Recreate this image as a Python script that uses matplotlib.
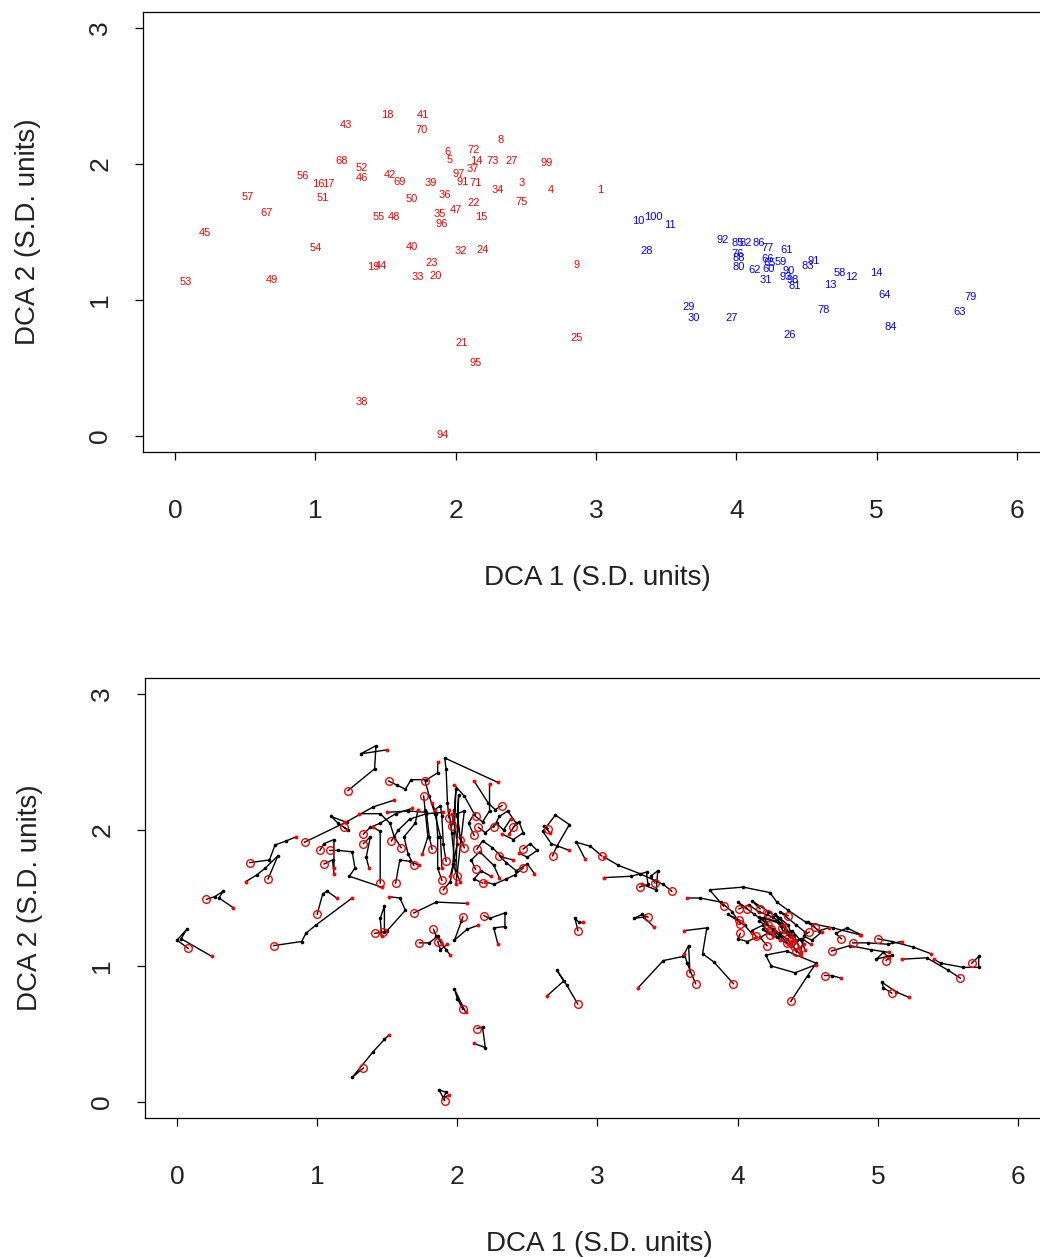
import matplotlib
matplotlib.use("Agg")
import matplotlib.pyplot as plt

plt.rcParams['font.family'] = ['Liberation Sans', 'DejaVu Sans']

# Site scores on the first two DCA axes (S.D. units)
site_labels = [
    "1", "3", "4", "5", "6", "8", "9", "14", "15", "16", "17", "18", "19", "20",
    "21", "22", "23", "24", "25", "27", "32", "33", "34", "35", "36", "37", "38",
    "39", "40", "41", "42", "43", "44", "45", "46", "47", "48", "49", "50", "51",
    "52", "53", "54", "55", "56", "57", "67", "68", "69", "70", "71", "72", "73",
    "75", "91", "94", "95", "96", "97", "99",
    "10", "100", "11", "28", "92", "85", "82", "86", "61", "77", "76", "88", "80",
    "62", "31", "66", "65", "59", "60", "90", "98", "93", "81", "91", "83", "58",
    "12", "13", "14", "64", "79", "63", "78", "84", "29", "30", "27", "26",
]
site_x = [
    3.03, 2.47, 2.68, 1.96, 1.94, 2.32, 2.86, 2.15, 2.18, 1.02, 1.09, 1.51, 1.41, 1.86,
    2.04, 2.13, 1.83, 2.19, 2.86, 2.40, 2.04, 1.73, 2.30, 1.89, 1.92, 2.12, 1.33,
    1.82, 1.69, 1.77, 1.53, 1.22, 1.47, 0.21, 1.33, 2.00, 1.56, 0.69, 1.69, 1.05,
    1.33, 0.08, 1.00, 1.45, 0.91, 0.52, 0.65, 1.19, 1.60, 1.76, 2.14, 2.13, 2.26,
    2.47, 2.05, 1.91, 2.14, 1.90, 2.02, 2.65,
    3.30, 3.41, 3.53, 3.36, 3.90, 4.01, 4.07, 4.16, 4.36, 4.22, 4.01, 4.02, 4.02,
    4.13, 4.21, 4.22, 4.24, 4.32, 4.23, 4.37, 4.40, 4.35, 4.42, 4.55, 4.51, 4.74,
    4.82, 4.67, 5.00, 5.06, 5.67, 5.59, 4.62, 5.10, 3.66, 3.70, 3.97, 4.38,
]
site_y = [
    1.81, 1.86, 1.81, 2.03, 2.09, 2.18, 1.26, 2.02, 1.61, 1.85, 1.85, 2.36, 1.24, 1.18,
    0.68, 1.71, 1.27, 1.37, 0.72, 2.02, 1.36, 1.17, 1.81, 1.63, 1.77, 1.96, 0.25,
    1.86, 1.39, 2.36, 1.92, 2.29, 1.25, 1.49, 1.90, 1.66, 1.61, 1.15, 1.74, 1.75,
    1.97, 1.13, 1.38, 1.61, 1.91, 1.76, 1.64, 2.02, 1.87, 2.25, 1.86, 2.10, 2.02,
    1.72, 1.87, 0.01, 0.54, 1.56, 1.93, 2.01,
    1.58, 1.61, 1.55, 1.36, 1.44, 1.42, 1.42, 1.42, 1.37, 1.38, 1.34, 1.31, 1.24,
    1.22, 1.15, 1.30, 1.27, 1.28, 1.23, 1.21, 1.15, 1.17, 1.10, 1.29, 1.25, 1.20,
    1.17, 1.11, 1.20, 1.04, 1.02, 0.91, 0.93, 0.80, 0.95, 0.87, 0.87, 0.74,
]
site_group = ["A"] * 60 + ["B"] * 38

# Later positions of each site through time (continuing from its score above)
trajectories = [
    [(2.95, 1.88), (2.85, 1.91), (2.91, 1.79)],
    [(2.52, 1.90), (2.57, 1.85), (2.50, 1.80), (2.44, 1.83)],
    [(2.71, 1.88), (2.80, 2.04), (2.70, 2.11), (2.61, 1.99), (2.67, 1.90), (2.80, 1.85)],
    [(1.98, 2.15), (1.99, 2.30), (1.97, 1.75), (1.95, 1.66)],
    [(1.93, 2.20), (1.92, 2.45), (1.91, 2.53), (2.29, 2.35)],
    [(2.27, 2.15), (2.22, 2.20), (2.12, 2.36)],
    [(2.84, 1.35), (2.87, 1.32), (2.90, 1.32)],
    [(2.20, 1.98), (2.28, 2.05), (2.33, 2.00), (2.38, 2.08)],
    [(2.12, 1.64), (2.17, 1.70), (2.24, 1.66)],
    [(1.05, 1.90), (1.12, 1.93), (1.12, 1.72)],
    [(1.15, 1.85), (1.25, 1.84), (1.27, 1.72), (1.23, 1.66), (1.46, 1.58)],
    [(1.57, 2.33), (1.63, 2.30), (1.67, 2.37), (1.78, 2.37), (1.86, 2.42), (1.86, 2.50)],
    [(1.48, 1.25), (1.48, 1.44), (1.45, 1.35), (1.46, 1.22)],
    [(1.88, 1.12), (1.93, 1.16)],
    [(2.00, 0.76), (1.98, 0.83), (2.06, 0.66)],
    [(2.10, 1.78), (2.16, 1.84), (2.26, 1.74), (2.30, 1.65)],
    [(1.85, 1.22), (1.92, 1.12), (1.95, 1.08)],
    [(2.23, 1.35), (2.34, 1.39), (2.34, 1.29), (2.26, 1.28), (2.29, 1.16)],
    [(2.78, 0.86), (2.71, 0.97), (2.76, 0.89), (2.64, 0.78)],
    [(2.44, 2.06), (2.47, 1.98), (2.40, 1.93), (2.32, 1.97)],
    [(2.03, 1.33), (1.98, 1.19), (2.07, 1.27), (2.15, 1.30)],
    [(1.80, 1.17), (1.86, 1.22), (1.89, 1.16)],
    [(2.35, 1.76), (2.42, 1.70), (2.50, 1.75), (2.55, 1.68)],
    [(1.86, 1.72), (1.86, 1.95), (1.85, 2.12), (1.82, 2.20)],
    [(1.90, 1.90), (1.89, 2.10), (1.88, 2.18), (1.84, 2.15)],
    [(2.08, 2.05), (2.12, 2.12), (2.05, 2.25), (1.98, 2.33)],
    [(1.25, 0.18), (1.40, 0.37), (1.48, 0.46), (1.51, 0.49)],
    [(1.80, 1.95), (1.78, 2.13), (1.65, 2.14), (1.50, 2.13)],
    [(1.85, 1.47), (2.07, 1.46)],
    [(1.80, 2.25), (1.84, 2.12), (1.88, 1.95), (1.89, 1.72)],
    [(1.58, 2.00), (1.66, 2.08), (1.78, 2.12), (1.90, 2.13)],
    [(1.41, 2.45), (1.42, 2.62), (1.31, 2.56), (1.50, 2.59)],
    [(1.50, 1.26), (1.63, 1.41), (1.59, 1.50), (1.51, 1.51)],
    [(0.27, 1.51), (0.33, 1.55), (0.30, 1.50), (0.40, 1.43)],
    [(1.38, 1.95), (1.35, 1.80), (1.37, 1.72)],
    [(1.97, 1.75), (2.00, 1.90), (1.98, 2.05), (1.96, 2.12)],
    [(1.59, 1.78), (1.66, 1.77), (1.73, 1.74)],
    [(0.89, 1.18), (0.92, 1.24), (0.99, 1.30), (1.25, 1.50)],
    [(1.65, 1.82), (1.62, 1.95), (1.70, 2.05), (1.72, 2.15)],
    [(1.11, 1.78), (1.12, 1.68)],
    [(1.38, 2.02), (1.45, 2.05), (1.56, 2.12), (1.68, 2.16)],
    [(0.00, 1.19), (0.07, 1.27), (0.03, 1.20), (0.25, 1.07)],
    [(1.04, 1.53), (1.07, 1.55), (1.14, 1.50)],
    [(1.45, 1.99), (1.40, 2.02)],
    [(1.21, 2.06), (1.40, 2.17), (1.55, 2.22)],
    [(0.66, 1.78), (0.70, 1.89), (0.78, 1.92), (0.85, 1.95)],
    [(0.72, 1.81), (0.63, 1.72), (0.57, 1.67), (0.49, 1.62)],
    [(1.22, 2.00), (1.15, 2.05), (1.10, 2.10), (1.20, 2.06)],
    [(1.55, 1.95), (1.52, 2.05), (1.45, 2.12), (1.30, 2.12)],
    [(1.77, 2.15), (1.79, 1.95), (1.75, 1.82)],
    [(2.18, 1.92), (2.25, 1.87), (2.32, 1.80), (2.40, 1.78)],
    [(2.18, 2.06), (2.23, 2.14), (2.23, 2.34)],
    [(2.30, 2.10), (2.36, 2.14), (2.42, 2.05), (2.37, 1.97)],
    [(2.41, 1.67), (2.35, 1.64), (2.26, 1.60), (2.20, 1.62)],
    [(2.02, 1.95), (2.00, 2.12), (2.05, 2.14), (1.99, 1.60)],
    [(1.87, 0.09), (1.92, 0.07), (1.90, 0.03), (1.94, 0.05)],
    [(2.18, 0.55), (2.20, 0.40), (2.12, 0.43)],
    [(1.95, 1.62), (1.98, 1.78), (1.96, 1.98), (1.94, 2.15)],
    [(2.00, 2.10), (2.01, 2.26), (1.99, 1.70), (2.02, 1.62)],
    [(2.62, 2.03), (2.66, 1.98)],
    # group B
    [(3.36, 1.60), (3.35, 1.69), (3.24, 1.66), (3.05, 1.65)],
    [(3.38, 1.66), (3.43, 1.70), (3.42, 1.56), (3.32, 1.60)],
    [(3.47, 1.60), (3.30, 1.68), (3.15, 1.74), (3.05, 1.80)],
    [(3.32, 1.38), (3.26, 1.35), (3.33, 1.36), (3.40, 1.29)],
    [(3.80, 1.56), (4.04, 1.58), (4.23, 1.54), (4.28, 1.47), (4.36, 1.41), (4.49, 1.32),
     (4.68, 1.28), (4.87, 1.23)],
    [(4.08, 1.45), (4.15, 1.40), (4.25, 1.36), (4.33, 1.30)],
    [(4.00, 1.47), (4.12, 1.38), (4.20, 1.32), (4.30, 1.22), (4.38, 1.15)],
    [(4.10, 1.48), (4.22, 1.40), (4.30, 1.35), (4.41, 1.18)],
    [(4.30, 1.40), (4.42, 1.30), (4.48, 1.25), (4.45, 1.10)],
    [(4.15, 1.33), (4.26, 1.27), (4.35, 1.20), (4.45, 1.08)],
    [(3.93, 1.38), (4.05, 1.30), (4.10, 1.24)],
    [(3.96, 1.40), (3.88, 1.47), (3.73, 1.50), (3.64, 1.50)],
    [(4.00, 1.20), (4.07, 1.18), (4.13, 1.21)],
    [(4.10, 1.26), (4.18, 1.30), (4.25, 1.22)],
    [(4.16, 1.21), (4.25, 1.26), (4.30, 1.19)],
    [(4.15, 1.36), (4.28, 1.33), (4.33, 1.25)],
    [(4.19, 1.35), (4.31, 1.31), (4.38, 1.21)],
    [(4.27, 1.38), (4.36, 1.30), (4.40, 1.19)],
    [(4.18, 1.27), (4.28, 1.21), (4.36, 1.16)],
    [(4.33, 1.26), (4.40, 1.23), (4.44, 1.14)],
    [(4.45, 1.20), (4.48, 1.12)],
    [(4.30, 1.24), (4.39, 1.26), (4.47, 1.16)],
    [(4.38, 1.18), (4.46, 1.20), (4.52, 1.16)],
    [(4.50, 1.32), (4.58, 1.26), (4.65, 1.28)],
    [(4.47, 1.22), (4.53, 1.19), (4.60, 1.25)],
    [(4.70, 1.24), (4.78, 1.28), (4.88, 1.23)],
    [(4.93, 1.17), (5.07, 1.16), (5.17, 1.18)],
    [(4.80, 1.15), (4.95, 1.12), (5.08, 1.10)],
    [(5.10, 1.18), (5.25, 1.14), (5.38, 1.09)],
    [(5.10, 1.08), (4.99, 1.05), (5.04, 1.10), (5.08, 1.06)],
    [(5.72, 1.07), (5.72, 0.99), (5.61, 0.99), (5.45, 1.02), (5.40, 1.05)],
    [(5.50, 0.97), (5.35, 1.06), (5.17, 1.05)],
    [(4.67, 0.93), (4.74, 0.91)],
    [(5.04, 0.84), (5.03, 0.88), (5.13, 0.81), (5.22, 0.77)],
    [(3.65, 1.15), (3.61, 1.07), (3.47, 1.04), (3.29, 0.84)],
    [(3.64, 1.02), (3.62, 1.09)],
    [(3.83, 1.03), (3.75, 1.09), (3.78, 1.28), (3.62, 1.26)],
    [(4.50, 0.93), (4.56, 1.02), (4.35, 1.11), (4.20, 1.08), (4.24, 1.00), (4.41, 0.95),
     (4.56, 1.01)],
]

x_ticks = [0, 1, 2, 3, 4, 5, 6]
y_ticks = [0, 1, 2, 3]
x_title = "DCA 1 (S.D. units)"
y_title = "DCA 2 (S.D. units)"
group_colors = {"A": "#ff0000", "B": "#0000ff"}

W, H = 1040, 1258
fig = plt.figure(figsize=(W / 100, H / 100), dpi=100)
ax_top = fig.add_axes([143 / W, 1 - 452 / H, (1052 - 143) / W, 440 / H])
ax_bot = fig.add_axes([145 / W, 1 - 1118 / H, (1053 - 145) / W, 440 / H])


def style_axes(ax):
    ax.set_xlim(-0.228, 6.25)
    ax.set_ylim(-0.118, 3.118)
    ax.set_xticks(x_ticks)
    ax.set_yticks(y_ticks)
    ax.tick_params(axis="both", direction="out", length=6, width=0.9,
                   labelsize=19, colors="black", labelcolor="#222222")
    ax.tick_params(axis="x", pad=28)
    ax.tick_params(axis="y", pad=16, labelrotation=90)
    for lab in ax.get_yticklabels():
        lab.set_verticalalignment("center")
    for sp in ax.spines.values():
        sp.set_linewidth(0.9)
    ax.text(0.5, -0.286, x_title, transform=ax.transAxes, ha="center",
            va="center", fontsize=20, color="#222222")
    ax.text(-0.127, 0.5, y_title, transform=ax.transAxes, ha="center",
            va="center", fontsize=20, rotation=90, color="#222222")


# Site labels
for lab, x, y, g in zip(site_labels, site_x, site_y, site_group):
    ax_top.text(x, y, lab, color=group_colors[g], fontsize=8,
                ha="center", va="center")
style_axes(ax_top)

# Trajectories: open circle at the site score, black dots along the path,
# small red dot at the last position
for x0, y0, path in zip(site_x, site_y, trajectories):
    xs = [x0] + [p[0] for p in path]
    ys = [y0] + [p[1] for p in path]
    ax_bot.plot(xs, ys, color="black", lw=1.0, zorder=2)
    ax_bot.plot(xs[1:-1], ys[1:-1], "o", color="black", ms=2.6, mew=0, zorder=3)
    ax_bot.plot(xs[-1], ys[-1], "o", color="#ff0000", ms=2.8, mew=0, zorder=4)
for x0, y0 in zip(site_x, site_y):
    ax_bot.plot(x0, y0, "o", mfc="none", mec="#ff0000", ms=5.5, mew=1.0, zorder=5)
style_axes(ax_bot)

fig.savefig("out.png", dpi=100)
